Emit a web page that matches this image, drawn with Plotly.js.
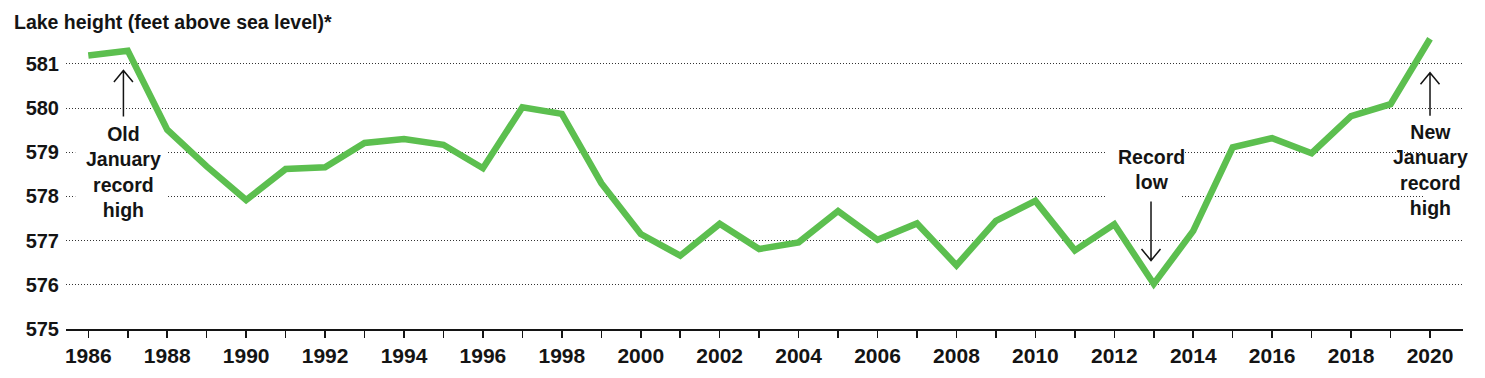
<!DOCTYPE html>
<html>
<head>
<meta charset="utf-8">
<script src="https://cdn.plot.ly/plotly-3.0.1.min.js"></script>
<style>
  html, body { margin: 0; padding: 0; background: #fff; }
  #chart { width: 1485px; height: 378px; }
</style>
</head>
<body>
<div id="chart"></div>
<script>
// ---- Data ----
const years = [1986,1987,1988,1989,1990,1991,1992,1993,1994,1995,1996,1997,1998,1999,2000,
               2001,2002,2003,2004,2005,2006,2007,2008,2009,2010,2011,2012,2013,2014,2015,
               2016,2017,2018,2019,2020];
const lakeHeight = [581.19,581.30,579.51,578.68,577.92,578.62,578.66,579.21,579.30,579.17,578.64,
                    580.02,579.87,578.30,577.15,576.66,577.38,576.81,576.96,577.67,577.02,577.39,
                    576.44,577.45,577.90,576.78,577.37,576.02,577.22,579.11,579.32,578.98,579.82,
                    580.09,581.57];
const yTicks = [575,576,577,578,579,580,581];
const xTickLabels = years.map(y => (y % 2 === 0 ? String(y) : ''));
const titleText = 'Lake height (feet above sea level)*';
const notes = [
  {text: 'Old<br>January<br>record<br>high', x: 1986.89, y: 578.56, arrowY: 580.85, arrowLen: 46, up: true,
   box: [1985.67, 1988.0, 577.43, 579.74]},
  {text: 'Record<br>low', x: 2012.93, y: 578.62, arrowY: 576.55, arrowLen: 59, up: false,
   box: [2011.77, 2013.67, 577.93, 579.15]},
  {text: 'New<br>January<br>record<br>high', x: 2020.0, y: 578.60, arrowY: 580.80, arrowLen: 43, up: true,
   box: [2019.87, 2021.2, 577.43, 579.74]}
];

const ink = '#141414';
const green = '#5cbf4f';
const boldFont = 'Liberation Sans, Arial, sans-serif';

const trace = {
  type: 'scatter',
  mode: 'lines',
  x: years,
  y: lakeHeight,
  line: {color: green, width: 6.5, shape: 'linear'},
  hoverinfo: 'x+y'
};

const annotations = [];
const shapes = [];
notes.forEach(n => {
  annotations.push({
    xref: 'x', yref: 'y', x: n.x, y: n.y,
    text: n.text, showarrow: false,
    font: {family: boldFont, size: 19.5, color: ink, weight: 700},
    align: 'center', xanchor: 'center', yanchor: 'middle'
  });
  // white mask that interrupts the dotted gridlines behind the note text
  shapes.push({
    type: 'rect', layer: 'between', xref: 'x', yref: 'y',
    x0: n.box[0], x1: n.box[1], y0: n.box[2], y1: n.box[3],
    fillcolor: '#ffffff', line: {width: 0}
  });
  // thin arrow with an open chevron head (pixel-sized, anchored at the tip)
  const s = n.up ? -1 : 1;   // direction of the shaft from the tip (pixel y grows upward)
  const L = n.arrowLen;
  shapes.push({
    type: 'path', layer: 'above', xref: 'x', yref: 'y',
    xsizemode: 'pixel', ysizemode: 'pixel', xanchor: n.x, yanchor: n.arrowY,
    path: `M -9.5,${s * 11.5} L 0,0 L 9.5,${s * 11.5} M 0,0 L 0,${s * L}`,
    line: {color: ink, width: 1.5}
  });
});

const layout = {
  width: 1485, height: 378,
  margin: {l: 66, r: 22, t: 33, b: 49, pad: 0},
  paper_bgcolor: '#ffffff', plot_bgcolor: '#ffffff',
  showlegend: false,
  title: {
    text: titleText,
    font: {family: boldFont, size: 19.5, color: ink, weight: 700},
    x: 14 / 1485, xref: 'container', xanchor: 'left',
    y: 1 - 22 / 378, yref: 'container', yanchor: 'middle'
  },
  xaxis: {
    range: [1985.435, 2020.836],
    tickmode: 'array', tickvals: years, ticktext: xTickLabels,
    ticks: 'outside', ticklen: 7, tickwidth: 1.5, tickcolor: ink,
    showline: true, linecolor: ink, linewidth: 2,
    showgrid: false, zeroline: false,
    tickfont: {family: boldFont, size: 21, color: ink, weight: 700},
    fixedrange: true
  },
  yaxis: {
    range: [575, 581.7],
    tickmode: 'array', tickvals: yTicks, ticktext: yTicks.map(String),
    ticks: '', showline: false, zeroline: false,
    showgrid: true, gridcolor: '#333333', gridwidth: 1, griddash: '1px,2px',
    tickfont: {family: boldFont, size: 20, color: ink, weight: 700},
    ticklabelstandoff: 6,
    fixedrange: true
  },
  shapes: shapes,
  annotations: annotations
};

Plotly.newPlot('chart', [trace], layout, {displayModeBar: false, staticPlot: true});
</script>
</body>
</html>
